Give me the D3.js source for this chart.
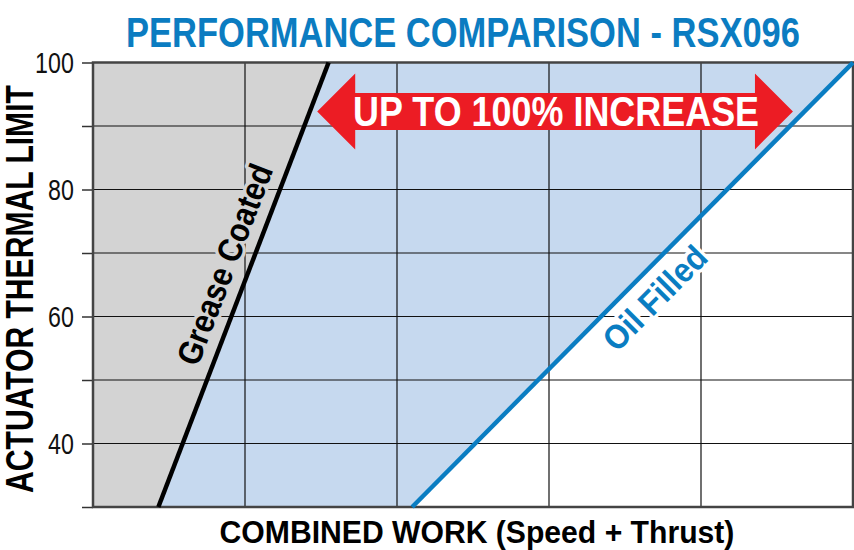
<!DOCTYPE html>
<html><head><meta charset="utf-8">
<script src="https://cdn.jsdelivr.net/npm/d3@7"></script>
<style>
body{margin:0;background:#fff;}
svg{display:block;}
</style></head>
<body>
<svg id="c" width="854" height="550"></svg>
<script>
// ---- data ----
const titleText = "PERFORMANCE COMPARISON - RSX096";
const xLabel = "COMBINED WORK (Speed + Thrust)";
const yLabel = "ACTUATOR THERMAL LIMIT";
const xDomain = [0, 5];
const yDomain = [30, 100];
const xGrid = [0, 1, 2, 3, 4, 5];
const yTicks = [30, 40, 50, 60, 70, 80, 90, 100];
const yTickLabels = [40, 60, 80, 100];
const greaseLine = [{x: 0.43, y: 30}, {x: 1.55, y: 100}];
const oilLine = [{x: 2.10, y: 30}, {x: 5.0, y: 100}];
const greaseName = "Grease Coated";
const oilName = "Oil Filled";
const arrowText = "UP TO 100% INCREASE";
const arrowSpan = [1.475, 4.605];   // data x of arrow tips
const arrowY = 92.3;                 // data y of arrow centre

const FONT = "'Liberation Sans',Arial,Helvetica,sans-serif";
const svg = d3.select("#c");
const L = 93, R = 853, T = 62.5, B = 507;
const x = d3.scaleLinear().domain(xDomain).range([L, R]);
const y = d3.scaleLinear().domain(yDomain).range([B, T]);

// condensed text helper: draws text at (cx, baseline) centred, squeezed horizontally to width w
function narrowText(parent, text, cx, by, rot, size, w, color, opts = {}) {
  const g = parent.append("g").attr("transform", `translate(${cx},${by}) rotate(${rot})`);
  const t = g.append("text").text(text)
    .attr("text-anchor", opts.anchor || "middle")
    .attr("font-family", FONT).attr("font-weight", opts.weight || "bold")
    .attr("font-size", size).attr("fill", color);
  if (opts.dy) t.attr("dy", opts.dy);
  if (opts.halo) t.attr("stroke", opts.halo).attr("stroke-width", opts.haloW || 7)
    .attr("stroke-linejoin", "round").attr("paint-order", "stroke");
  const nat = t.node().getComputedTextLength();
  t.attr("transform", `scale(${w / nat},1)`);
  return t;
}

// fills
svg.append("path")
  .attr("d", d3.line()([[x(0), y(30)], [x(greaseLine[0].x), y(greaseLine[0].y)], [x(greaseLine[1].x), y(greaseLine[1].y)], [x(0), y(100)]]) + "Z")
  .attr("fill", "#d3d3d3");
svg.append("path")
  .attr("d", d3.line()([[x(greaseLine[0].x), y(greaseLine[0].y)], [x(oilLine[0].x), y(oilLine[0].y)], [x(oilLine[1].x), y(oilLine[1].y)], [x(greaseLine[1].x), y(greaseLine[1].y)]]) + "Z")
  .attr("fill", "#c6d9ef");

// gridlines
const grid = svg.append("g");
grid.selectAll("line.v").data(xGrid).join("line")
  .attr("x1", d => x(d)).attr("x2", d => x(d)).attr("y1", T).attr("y2", B)
  .attr("stroke", "#111").attr("stroke-width", 1.2);
grid.selectAll("line.h").data(yTicks).join("line")
  .attr("x1", L).attr("x2", R).attr("y1", d => y(d)).attr("y2", d => y(d))
  .attr("stroke", "#111").attr("stroke-width", 1.2);

// y axis
const yAxis = d3.axisLeft(y).tickValues(yTicks).tickSize(11).tickPadding(7)
  .tickFormat(d => yTickLabels.includes(d) ? String(d) : "");
const ya = svg.append("g").attr("transform", `translate(${L},0)`).call(yAxis);
ya.select(".domain").remove();
ya.selectAll(".tick line").attr("stroke", "#333").attr("stroke-width", 1.5);
ya.selectAll(".tick text").attr("font-family", FONT).attr("font-size", 29).attr("fill", "#111")
  .attr("dy", "0.36em").attr("x", -24)
  .attr("transform", "scale(0.8,1)");

// border
svg.append("rect").attr("x", L).attr("y", T).attr("width", R - L).attr("height", B - T)
  .attr("fill", "none").attr("stroke", "#444").attr("stroke-width", 2.5);

// lines
const line = d3.line().x(d => x(d.x)).y(d => y(d.y));
svg.append("path").attr("d", line(greaseLine)).attr("stroke", "#000").attr("stroke-width", 4.5).attr("fill", "none");
svg.append("path").attr("d", line(oilLine)).attr("stroke", "#0a7dc2").attr("stroke-width", 4.5).attr("fill", "none");

// arrow
const ax0 = x(arrowSpan[0]), ax1 = x(arrowSpan[1]), ay = y(arrowY);
const head = 38, hh = 38, bh = 18.5;
const arrowPts = [[ax0, ay], [ax0 + head, ay - hh], [ax0 + head, ay - bh], [ax1 - head, ay - bh], [ax1 - head, ay - hh],
  [ax1, ay], [ax1 - head, ay + hh], [ax1 - head, ay + bh], [ax0 + head, ay + bh], [ax0 + head, ay + hh]];
svg.append("path").attr("d", d3.line()(arrowPts) + "Z").attr("fill", "#ec1c24");
narrowText(svg, arrowText, (ax0 + ax1) / 2 + 1, ay + 14.5, 0, 42, 406, "#fff");

// series labels along lines
function labelAlong(pts, text, yVal, offset, color, halo, len) {
  const p0 = [x(pts[0].x), y(pts[0].y)], p1 = [x(pts[1].x), y(pts[1].y)];
  const dx = p1[0] - p0[0], dy = p1[1] - p0[1], n = Math.hypot(dx, dy);
  const ux = dx / n, uy = dy / n;
  const t = (yVal - pts[0].y) / (pts[1].y - pts[0].y);
  const px = p0[0] + dx * t, py = p0[1] + dy * t;
  const cx = px + offset * (-uy), cy = py + offset * ux;   // +offset: right/down side
  const ang = Math.atan2(dy, dx) * 180 / Math.PI;
  narrowText(svg, text, cx, cy, ang, 34, len, color, {dy: "0.35em", halo: halo, haloW: 7});
}
labelAlong(greaseLine, greaseName, 66.8, -25, "#000", "#d3d3d3", 212);
labelAlong(oilLine, oilName, 65.7, 25, "#0a7dc2", "#fff", 132);

// title & axis titles
narrowText(svg, titleText, 463, 47, 0, 42, 674, "#0b7cc1");
narrowText(svg, xLabel, 477, 543, 0, 31, 515, "#000");
narrowText(svg, yLabel, 33, 289, -90, 38, 408, "#000");
</script>
</body></html>
